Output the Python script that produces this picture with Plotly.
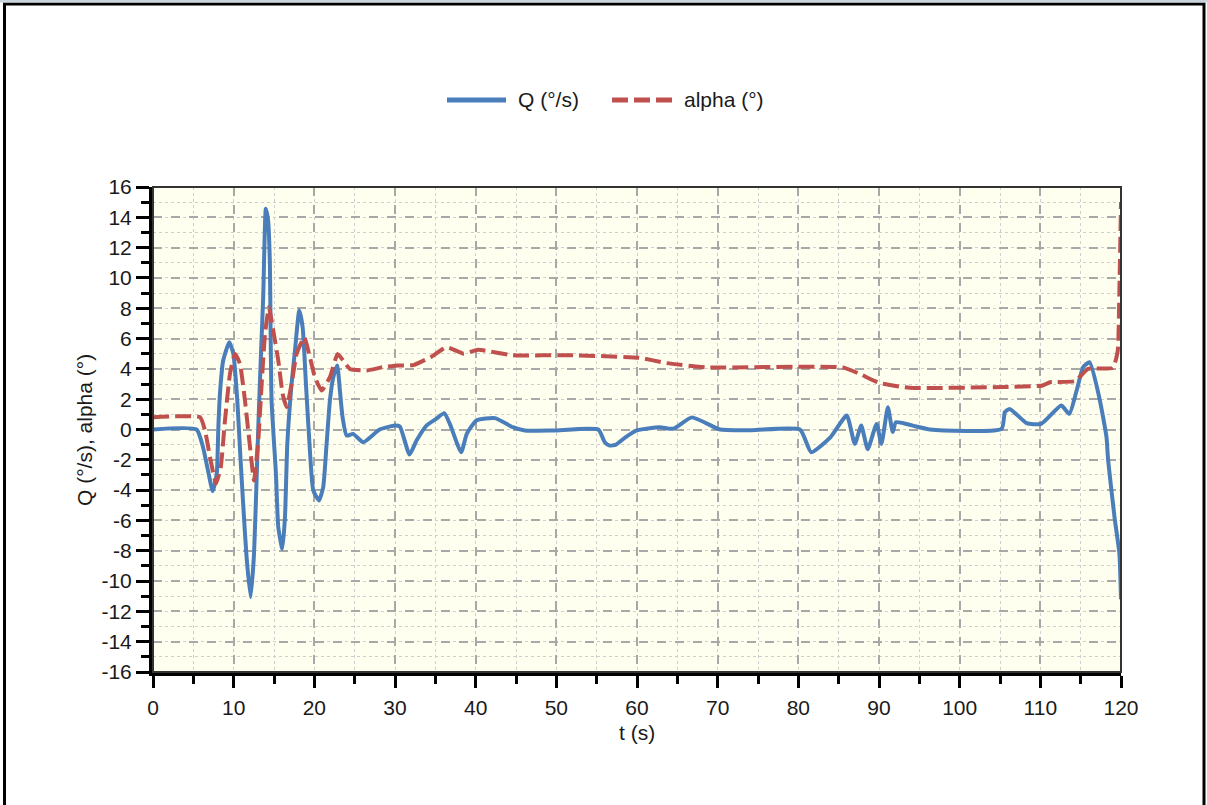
import plotly.graph_objects as go

# ---- data ----
t_q = [0, 5.4, 6.2, 6.9, 7.4, 7.9, 8.1, 8.3, 8.7, 9.46, 9.96, 10.45, 10.86, 11.2, 11.6, 12.1,
       12.5, 12.76, 13.05, 13.37, 13.66, 13.99, 14.27, 14.48, 14.7, 15.24, 15.53, 16.03, 16.36,
       16.65, 17.18, 17.6, 18.13, 18.55, 18.96, 19.45, 19.87, 20.57, 21.1, 21.52, 21.93, 22.35,
       22.84, 23.17, 23.5, 24.0, 24.8, 26.06, 28.1, 30.0, 30.6, 31.8, 32.67, 33.9, 35.1, 36.1,
       36.8, 38.2, 38.9, 40.1, 42.4, 44.6, 46.1, 49.6, 55.2, 56.0, 56.6, 57.4, 58.6, 59.9,
       62.8, 64.5, 66.8, 70.3, 74.2, 80.2, 81.6, 84.0, 86.0, 87.0, 87.8, 88.6, 89.7, 90.3,
       91.1, 91.7, 92.1, 94.6, 96.3, 105.2, 105.6, 106.2, 108.3, 110.1, 112.6, 113.6, 114.5,
       115.3, 116.1, 117.3, 118.2, 118.4, 119.2, 119.8, 120.0]
q_vals = [0, 0, -1.17, -2.92, -4.07, -2.92, 0.15, 2.35, 4.55, 5.76, 4.99, 1.91, -2.04, -5.12,
          -8.42, -11.06, -8.42, -4.68, 0.15, 4.77, 8.73, 14.56, 13.79, 11.15, 1.9, -2.92,
          -6.44, -7.87, -5.78, -0.95, 3.01, 5.21, 7.85, 6.75, 3.01, -1.39, -4.02, -4.68, -3.8,
          -0.95, 1.91, 3.45, 4.22, 2.57, 0.81, -0.4, -0.29, -0.84, 0.0, 0.26, 0.2, -1.65, -0.73,
          0.26, 0.7, 1.08, 0.37, -1.5, -0.29, 0.6, 0.75, 0.15, -0.07, -0.07, 0.0, -0.84, -1.06,
          -1.0, -0.5, -0.07, 0.15, 0.05, 0.8, 0.0, -0.05, 0.0, -1.5, -0.5, 0.92, -0.95, 0.26,
          -1.3, 0.37, -0.95, 1.47, -0.17, 0.48, 0.2, 0.0, 0.04, 1.14, 1.36, 0.42, 0.37, 1.58,
          1.03, 2.57, 4.1, 4.44, 2.13, -0.5, -2.0, -5.8, -8.2, -11.2]

t_alpha = [0, 5.83, 6.45, 7.07, 7.81, 8.4, 8.92, 9.54, 10.16, 10.78, 11.4, 11.94, 12.52, 13.05,
           13.47, 13.88, 14.37, 14.91, 15.53, 16.07, 16.57, 17.18, 17.8, 18.75, 19.45, 20.07,
           20.9, 21.93, 22.88, 23.58, 24.4, 26.47, 28.5, 30.4, 32.3, 34.5, 36.4, 38.5, 40.3,
           44.6, 52.0, 60.3, 63.7, 68.6, 85.5, 87.6, 90.1, 93.8, 105.4, 110.3, 111.2, 114.3,
           115.9, 119.0, 119.6, 119.8, 120.0]
alpha_vals = [0.81, 0.81, -0.07, -1.83, -3.58, -2.48, 0.59, 3.67, 4.99, 4.33, 1.91, -0.73,
              -3.37, -0.73, 3.01, 6.3, 8.07, 6.53, 4.55, 2.35, 1.47, 3.01, 4.99, 6.09, 4.77,
              3.45, 2.57, 3.45, 4.99, 4.55, 4.0, 3.89, 4.11, 4.22, 4.25, 4.8, 5.43, 5.0, 5.26,
              4.9, 4.9, 4.73, 4.38, 4.1, 4.1, 3.67, 3.06, 2.75, 2.8, 2.9, 3.12, 3.19, 4.0, 4.07,
              5.2, 9.2, 15.0]

x_ticks = list(range(0, 121, 10))
y_ticks = list(range(-16, 17, 2))
y_tick_text = [str(v) for v in y_ticks]  # plain hyphen minus, as in the reference

series_names = ["Q (°/s)", "alpha (°)"]

BLUE = "#4A7EBB"
RED = "#C0504D"
FONT = "Liberation Sans, Arial, sans-serif"
TXT = "#1a1a1a"

fig = go.Figure()
fig.add_trace(go.Scatter(x=t_q, y=q_vals, mode="lines", name=series_names[0],
                         line=dict(color=BLUE, width=4, shape="spline", smoothing=0.5)))
fig.add_trace(go.Scatter(x=t_alpha, y=alpha_vals, mode="lines", name=series_names[1],
                         line=dict(color=RED, width=4, dash="16px,6px", shape="spline",
                                   smoothing=0.4)))

L, R, T, B = 153, 86, 187, 133
W, H = 1207, 805
pw, ph = W - L - R, H - T - B

def px(xp):
    return (xp - L) / pw

def py(yp):
    return (H - B - yp) / ph

axis_common = dict(
    showline=True, linecolor="black", linewidth=4,
    ticks="outside", tickwidth=3, tickcolor="black",
    gridcolor="#A8A8A8", gridwidth=1.5, griddash="dash",
    zeroline=False, mirror=False,
    tickfont=dict(family=FONT, size=21, color=TXT),
)

fig.update_xaxes(range=[0, 120], tickvals=x_ticks, ticklen=12,
                 minor=dict(dtick=5, tick0=0, ticks="outside", ticklen=8, tickwidth=3,
                            tickcolor="black", showgrid=True, gridcolor="#CFCFCF",
                            gridwidth=1.2, griddash="dot"),
                 ticklabelstandoff=2,
                 **axis_common)
fig.update_yaxes(range=[-16, 16], tickvals=y_ticks, ticktext=y_tick_text, ticklen=13,
                 minor=dict(dtick=1, tick0=0, ticks="outside", ticklen=8, tickwidth=3,
                            tickcolor="black", showgrid=True, gridcolor="#CFCFCF",
                            gridwidth=1.2, griddash="dot"),
                 ticklabelstandoff=0,
                 **axis_common)

annotations = [
    dict(text="t (s)", xref="paper", yref="paper", x=px(637), y=py(732), xanchor="center",
         yanchor="middle", showarrow=False, font=dict(family=FONT, size=21, color=TXT)),
    dict(text="Q (°/s), alpha (°)", xref="paper", yref="paper", x=px(84), y=py(430),
         xanchor="center", yanchor="middle", textangle=-90, showarrow=False,
         font=dict(family=FONT, size=21, color=TXT)),
    # legend texts
    dict(text=series_names[0], xref="paper", yref="paper", x=px(516), y=py(100),
         xanchor="left", yanchor="middle", showarrow=False,
         font=dict(family=FONT, size=21, color=TXT)),
    dict(text=series_names[1], xref="paper", yref="paper", x=px(682), y=py(100),
         xanchor="left", yanchor="middle", showarrow=False,
         font=dict(family=FONT, size=21, color=TXT)),
]

shapes = [
    # plot area border (top/right)
    dict(type="rect", xref="paper", yref="paper", x0=0, x1=1, y0=0, y1=1,
         line=dict(color="#333333", width=2), layer="above"),
    # outer frame
    dict(type="rect", xref="paper", yref="paper", x0=px(4.5), x1=px(1204), y0=py(830),
         y1=py(4), line=dict(color="black", width=3), layer="above"),
    dict(type="rect", xref="paper", yref="paper", x0=px(0), x1=px(1207), y0=py(2.5),
         y1=py(0), line=dict(width=0), fillcolor="#C9D3DE", layer="above"),
    # legend samples
    dict(type="line", xref="paper", yref="paper", x0=px(447), x1=px(506), y0=py(100),
         y1=py(100), line=dict(color=BLUE, width=5)),
    dict(type="line", xref="paper", yref="paper", x0=px(612), x1=px(673), y0=py(100),
         y1=py(100), line=dict(color=RED, width=5, dash="16px,6px")),
]

fig.update_layout(
    width=W, height=H,
    margin=dict(l=L, r=R, t=T, b=B, autoexpand=False),
    paper_bgcolor="white",
    plot_bgcolor="#FFFFF0",
    font=dict(family=FONT, size=21, color=TXT),
    showlegend=False,
    annotations=annotations,
    shapes=shapes,
)

fig.write_html("out.html")
